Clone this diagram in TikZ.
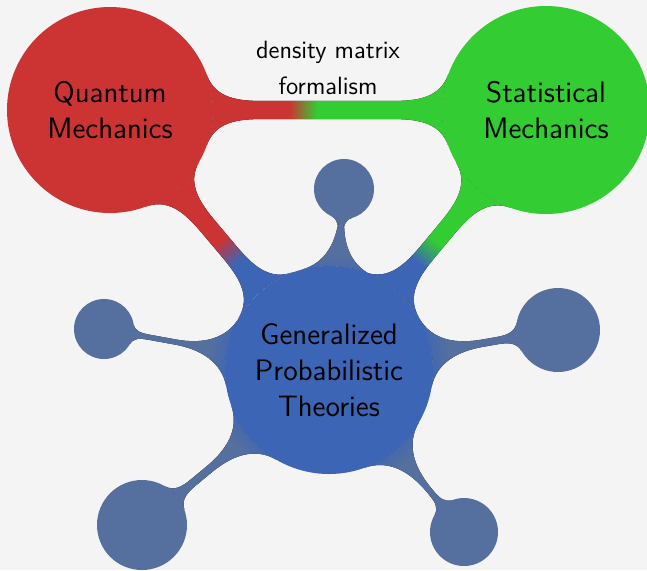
\documentclass[tikz,border=0pt]{standalone}
\usetikzlibrary{mindmap,calc}
\definecolor{bgc}{HTML}{F4F4F4}
\definecolor{qmred}{HTML}{CC3333}
\definecolor{smgreen}{HTML}{33CC33}
\definecolor{gptblue}{HTML}{3D65B5}
\definecolor{leafc}{HTML}{55709E}
\colorlet{cfrom}{red}
\colorlet{cto}{blue}
\pgfdeclarehorizontalshading[cfrom,cto]{myswitch}{100bp}{color(0bp)=(cfrom); color(49.3bp)=(cfrom); color(50.7bp)=(cto); color(100bp)=(cto)}
\pgfdeclarelayer{bottom}
\pgfdeclarelayer{background}
\pgfsetlayers{bottom,background,main}
% #1 bar style, #2 from node, #3 to node, #4 from colour, #5 to colour, #6 switch point
\newcommand\drawconn[6]{%
  \begin{scope}
    \colorlet{cfrom}{#4}\colorlet{cto}{#5}%
    \path let \p1=($(#3)-(#2)$), \n1={atan2(\y1,\x1)} in \pgfextra{\xdef\connang{\n1}};
    \path[#1, path picture={\shade[shading=myswitch, shading angle=\connang] ($(#6)+(-500,-500)$) rectangle ($(#6)+(500,500)$);}] (#2) to[circle connection bar] (#3);
  \end{scope}}
\begin{document}
\begin{tikzpicture}[x=0.5pt,y=-0.5pt, concept color=black,
  bubble/.style={circle, inner sep=0pt, outer sep=0pt, draw=none, align=center, font=\sffamily\fontsize{14.8}{18}\selectfont},
  bigbar/.style={line width=7.5pt},
  smallbar/.style={line width=3.3pt}]
\begin{pgfonlayer}{bottom}
\fill[bgc] (0,0) rectangle (647,570);
\end{pgfonlayer}
\useasboundingbox (0,0) rectangle (647,570);
\node[bubble, fill=gptblue, minimum size=104pt] (gpt) at (329,370) {Generalized\\Probabilistic\\Theories};
\node[bubble, fill=qmred, minimum size=103pt] (qm) at (110,110) {Quantum\\Mechanics};
\node[bubble, fill=smgreen, minimum size=104pt] (sm) at (546,110) {Statistical\\Mechanics};
\node[bubble, fill=leafc, minimum size=30pt] (t1) at (344,189) {};
\node[bubble, fill=leafc, minimum size=30pt] (l1) at (104,329) {};
\node[bubble, fill=leafc, minimum size=42pt] (r1) at (558,330) {};
\node[bubble, fill=leafc, minimum size=45pt] (bl) at (142,525) {};
\node[bubble, fill=leafc, minimum size=34pt] (br) at (464,532) {};
\coordinate (s1) at (303,108);
\coordinate (s2) at (228,252);
\coordinate (s3) at (427,252);
\coordinate (st) at (337,268);
\coordinate (sl) at (222,350);
\coordinate (sr) at (436,351);
\coordinate (sbl) at (250,442);
\coordinate (sbr) at (398,452);
\begin{pgfonlayer}{background}
\drawconn{bigbar}{qm}{sm}{qmred}{smgreen}{s1}
\drawconn{bigbar}{qm}{gpt}{qmred}{gptblue}{s2}
\drawconn{bigbar}{sm}{gpt}{smgreen}{gptblue}{s3}
\drawconn{smallbar}{gpt}{t1}{gptblue}{leafc}{st}
\drawconn{smallbar}{gpt}{l1}{gptblue}{leafc}{sl}
\drawconn{smallbar}{gpt}{r1}{gptblue}{leafc}{sr}
\drawconn{smallbar}{gpt}{bl}{gptblue}{leafc}{sbl}
\drawconn{smallbar}{gpt}{br}{gptblue}{leafc}{sbr}
\end{pgfonlayer}
\node[align=center, font=\sffamily\fontsize{12.5}{18}\selectfont] (dmf) at (328,68) {density matrix\\formalism};
\end{tikzpicture}
\end{document}
